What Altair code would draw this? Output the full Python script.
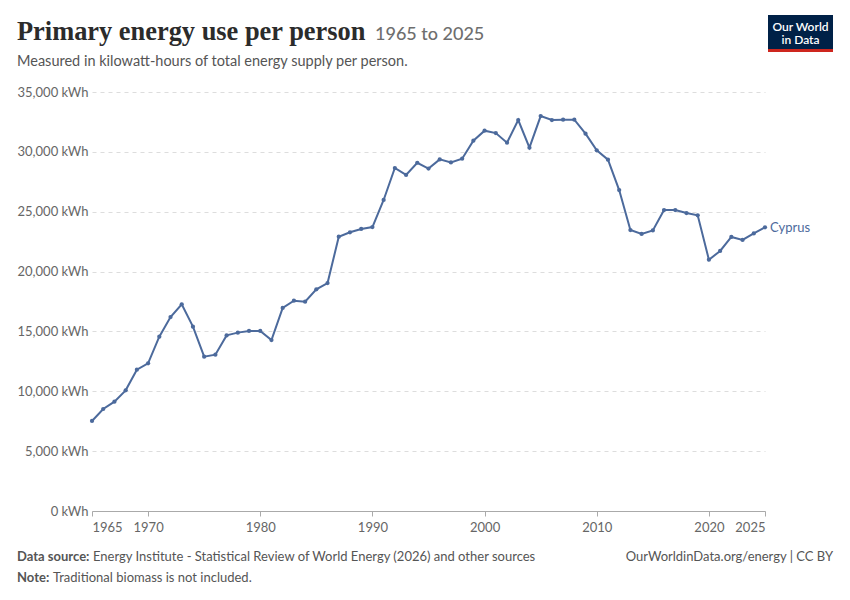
import altair as alt
import pandas as pd

years = list(range(1965, 2026))
values = [7520, 8520, 9130, 10080, 11800, 12340, 14560, 16200, 17270, 15400,
          12890, 13060, 14670, 14900, 15040, 15040, 14280, 16960, 17570, 17480,
          18520, 19040, 22910, 23280, 23560, 23720, 25980, 28650, 28070, 29090,
          28600, 29370, 29120, 29430, 30930, 31770, 31570, 30770, 32660, 30350,
          32990, 32660, 32690, 32690, 31520, 30130, 29350, 26810, 23470, 23140,
          23440, 25140, 25140, 24890, 24700, 20990, 21720, 22890, 22640, 23190,
          23700]
country = "Cyprus"
x_ticks = [1965, 1970, 1980, 1990, 2000, 2010, 2020, 2025]
y_ticks = [0, 5000, 10000, 15000, 20000, 25000, 30000, 35000]

title_text = "Primary energy use per person"
title_range = "1965 to 2025"
subtitle_text = "Measured in kilowatt-hours of total energy supply per person."
source_label = "Data source:"
source_text = "Energy Institute - Statistical Review of World Energy (2026) and other sources"
note_label = "Note:"
note_text = "Traditional biomass is not included."
right_footer = "OurWorldinData.org/energy | CC BY"

df = pd.DataFrame({"year": years, "value": values, "country": country})

BLUE = "#4C6A9C"
GRAY = "#666666"
FONT = "Lato"

x = alt.X("year:Q", scale=alt.Scale(domain=[1965, 2025], nice=False, zero=False),
          axis=alt.Axis(values=x_ticks, format="d", title=None, grid=False,
                        domainColor="#aaaaaa", tickColor="#aaaaaa", tickSize=5,
                        labelColor=GRAY, labelFont=FONT, labelFontSize=13,
                        labelPadding=5, labelFlush=True))
y = alt.Y("value:Q", scale=alt.Scale(domain=[0, 35000], nice=False),
          axis=alt.Axis(values=y_ticks, title=None, domain=False, ticks=False,
                        labelExpr="format(datum.value, ',') + ' kWh'",
                        labelColor=GRAY, labelFont=FONT, labelFontSize=13,
                        labelPadding=4, gridColor="#dddddd", gridDash=[4, 4]))

base = alt.Chart(df)
line = base.mark_line(color=BLUE, strokeWidth=2).encode(x=x, y=y)
pts = base.mark_circle(color=BLUE, size=18, opacity=1).encode(x=x, y=y)
label = base.transform_filter(alt.datum.year == 2025).mark_text(
    align="left", dx=5, dy=1, baseline="middle", font=FONT, fontSize=13, color=BLUE
).encode(x=x, y=y, text="country:N")

one = alt.Data(values=[{}])

def txt(text, px, py, size=13, color=GRAY, weight="normal", align="left", font=FONT):
    return alt.Chart(one).mark_text(
        text=text, align=align, baseline="alphabetic", font=font, fontSize=size,
        color=color, fontWeight=weight
    ).encode(x=alt.value(px - 92), y=alt.value(py - 92))

title = txt(title_text, 17, 40, size=26.4, color="#2b2b2b", weight="bold",
            font="Liberation Serif")
trange = txt(title_range, 375, 40, size=18, color="#6e6e6e", weight=500)
subtitle = txt(subtitle_text, 17, 66, size=14.5, color="#555555")
src_l = txt(source_label, 17, 561, size=13, color="#555555", weight="bold")
src_t = txt(source_text, 93, 561, size=13, color="#555555")
note_l = txt(note_label, 17, 582, size=13, color="#555555", weight="bold")
note_t = txt(note_text, 53, 582, size=13, color="#555555")
right = txt(right_footer, 833, 561, size=13, color="#555555", align="right")

logo_bg = alt.Chart(one).mark_rect(color="#002147").encode(
    x=alt.value(768 - 92), x2=alt.value(833 - 92),
    y=alt.value(15 - 92), y2=alt.value(52 - 92))
logo_red = alt.Chart(one).mark_rect(color="#CE261E").encode(
    x=alt.value(768 - 92), x2=alt.value(833 - 92),
    y=alt.value(49 - 92), y2=alt.value(52 - 92))
logo1 = txt("Our World", 800.5, 30.5, size=12, color="white", weight=600, align="center")
logo2 = txt("in Data", 800.5, 44, size=12, color="white", weight=600, align="center")

chart = alt.layer(
    line, pts, label, title, trange, subtitle, src_l, src_t, note_l, note_t, right,
    logo_bg, logo_red, logo1, logo2
).properties(
    width=673, height=419,
    autosize=alt.AutoSizeParams(type="none"),
    padding={"left": 84, "top": 84, "right": 77, "bottom": 81},
    background="white",
).configure_view(stroke=None)

chart.save("out.html", embed_options={"renderer": "svg", "actions": False})
